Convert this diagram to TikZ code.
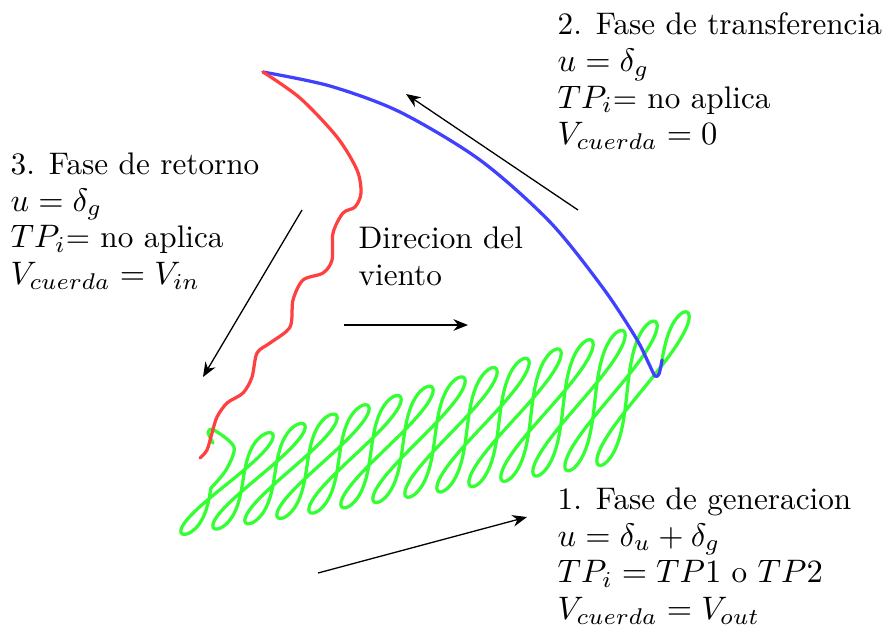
\documentclass[tikz,border=0pt]{standalone}
\usepackage{tikz}
\usetikzlibrary{arrows.meta}

\begin{document}
\begin{tikzpicture}[
  x=0.3077pt, y=-0.3077pt,
  phase/.style={anchor=north west, inner sep=0pt, align=left, font=\fontsize{9.6}{11.3}\selectfont},
  hint/.style={-{Stealth[length=4.5pt, width=3.6pt]}, line width=0.4pt},
  trail/.style={line width=1pt, line join=round, line cap=round}
]
\useasboundingbox (0,0) rectangle (885,629);

\node[phase] (trans) at (557,12) {2. Fase de transferencia\\$u=\delta_g$\\$TP_i$= no aplica\\$V_{cuerda}=0$};
\node[phase] (ret) at (10,152) {3. Fase de retorno\\$u=\delta_g$\\$TP_i$= no aplica\\$V_{cuerda}=V_{in}$};
\node[phase] (wind) at (358,226) {Direcion del\\viento};
\node[phase] (gen) at (557,487) {1. Fase de generacion\\$u=\delta_u+\delta_g$\\$TP_i=TP1$ o $TP2$\\$V_{cuerda}=V_{out}$};

\coordinate (top) at (263,72);
\coordinate (hook) at (662,360);
\coordinate (low) at (200,458);

\draw[trail, green!80] plot[smooth] coordinates {(213,443) (208,432) (214,430) (234,447) (226,470) (211,488)};
\draw[trail, green!80] plot[domain=-180:4840, samples=1000, variable=\t]
  ({227+\t/360*32+11*sin(2*\t)+35*sin(\t)}, {484-\t/360*7.3-(49+\t/360*2)*sin(\t)});

\draw[trail, blue!75] plot[smooth] coordinates {(top) (330,86) (400,112) (480,160) (550,222) (603,288) (636,338) (649,364) (655,376) (659,374) (hook)};
\draw[trail, red!75] plot[smooth] coordinates {(top) (300,98) (337,137) (357,170) (361,193) (355,207) (343,213) (333,233) (332,260) (323,273) (303,280) (293,300) (290,327) (270,343) (257,353) (252,377) (243,393) (227,403) (217,417) (212,433) (207,450) (low)};

\coordinate (t0) at (578,210);
\coordinate (t1) at (406,94);
\coordinate (r0) at (302,210);
\coordinate (r1) at (203,377);
\coordinate (w0) at (344,325);
\coordinate (w1) at (468,325);
\coordinate (g0) at (318,573);
\coordinate (g1) at (527,517);

\draw[hint] (t0) -- (t1);
\draw[hint] (r0) -- (r1);
\draw[hint] (w0) -- (w1);
\draw[hint] (g0) -- (g1);
\end{tikzpicture}
\end{document}
